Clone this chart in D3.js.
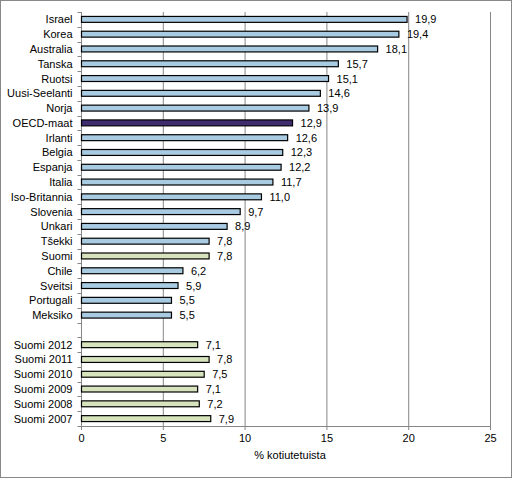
<!DOCTYPE html>
<html><head><meta charset="utf-8">
<script src="https://cdn.jsdelivr.net/npm/d3@7"></script>
<style>body{margin:0;background:#fff}svg{display:block}text{font-family:"Liberation Sans",Arial,sans-serif;font-size:11px;fill:#000}</style>
</head><body><svg id="c" width="513" height="479"></svg>
<script>
const categories = ["Israel","Korea","Australia","Tanska","Ruotsi","Uusi-Seelanti","Norja","OECD-maat","Irlanti","Belgia","Espanja","Italia","Iso-Britannia","Slovenia","Unkari","Tšekki","Suomi","Chile","Sveitsi","Portugali","Meksiko","","Suomi 2012","Suomi 2011","Suomi 2010","Suomi 2009","Suomi 2008","Suomi 2007"];
const values = [19.9,19.4,18.1,15.7,15.1,14.6,13.9,12.9,12.6,12.3,12.2,11.7,11.0,9.7,8.9,7.8,7.8,6.2,5.9,5.5,5.5,null,7.1,7.8,7.5,7.1,7.2,7.9];
const groups = ["c","c","c","c","c","c","c","o","c","c","c","c","c","c","c","c","f","c","c","c","c","","f","f","f","f","f","f"];
const xTicks = [0,5,10,15,20,25];
const xTitle = "% kotiutetuista";
const colors = {c:"#A9CBE2", o:"#3F2B6F", f:"#D6E3BC"};

const svg = d3.select("#c");
svg.append("rect").attr("x",0.5).attr("y",0.5).attr("width",511).attr("height",477).attr("fill","#fff").attr("stroke","#888");
const L=81.5, R=490.5, T=12, B=426;
const x = d3.scaleLinear().domain([0,25]).range([L,R]);
const y = d3.scaleBand().domain(categories.map((c,i)=>i)).range([T,B]).paddingInner(0.6).paddingOuter(0.3);
const yb = d3.scaleBand().domain(categories.map((c,i)=>i)).range([T,B]);

// gridlines
svg.append("g").selectAll("line").data(xTicks.filter(t=>t>0)).join("line")
  .attr("x1",d=>x(d)).attr("x2",d=>x(d)).attr("y1",T).attr("y2",B+4).attr("stroke","#868686");
// x axis
svg.append("line").attr("x1",L).attr("x2",R).attr("y1",B+0.5).attr("y2",B+0.5).attr("stroke","#868686");
svg.append("line").attr("x1",L).attr("x2",L).attr("y1",B).attr("y2",B+4).attr("stroke","#868686");
svg.append("g").selectAll("text").data(xTicks).join("text")
  .attr("x",d=>x(d)).attr("y",B+16).attr("text-anchor","middle").text(d=>d);
svg.append("text").attr("x",x(12.5)+4).attr("y",B+33).attr("text-anchor","middle").text(xTitle);
// y axis
svg.append("line").attr("x1",L).attr("x2",L).attr("y1",T).attr("y2",B).attr("stroke","#868686");
const bounds = d3.range(categories.length+1).map(i=>T+i*yb.step());
svg.append("g").selectAll("line").data(bounds).join("line")
  .attr("x1",L-4).attr("x2",L).attr("y1",d=>Math.round(d)+0.5).attr("y2",d=>Math.round(d)+0.5).attr("stroke","#868686");

// bars
const idx = d3.range(categories.length).filter(i=>values[i]!=null);
svg.append("g").selectAll("rect").data(idx).join("rect")
  .attr("x",L).attr("y",i=>y(i)).attr("width",i=>x(values[i])-L).attr("height",y.bandwidth())
  .attr("fill",i=>colors[groups[i]]).attr("stroke","#000").attr("stroke-width",1.2);
// value labels
svg.append("g").selectAll("text").data(idx).join("text")
  .attr("x",i=>x(values[i])+8).attr("y",i=>yb(i)+yb.bandwidth()/2+4)
  .text(i=>d3.format(".1f")(values[i]).replace(".",","));
// category labels
svg.append("g").selectAll("text").data(d3.range(categories.length)).join("text")
  .attr("x",L-9).attr("y",i=>yb(i)+yb.bandwidth()/2+4).attr("text-anchor","end")
  .text(i=>categories[i]);
</script></body></html>
